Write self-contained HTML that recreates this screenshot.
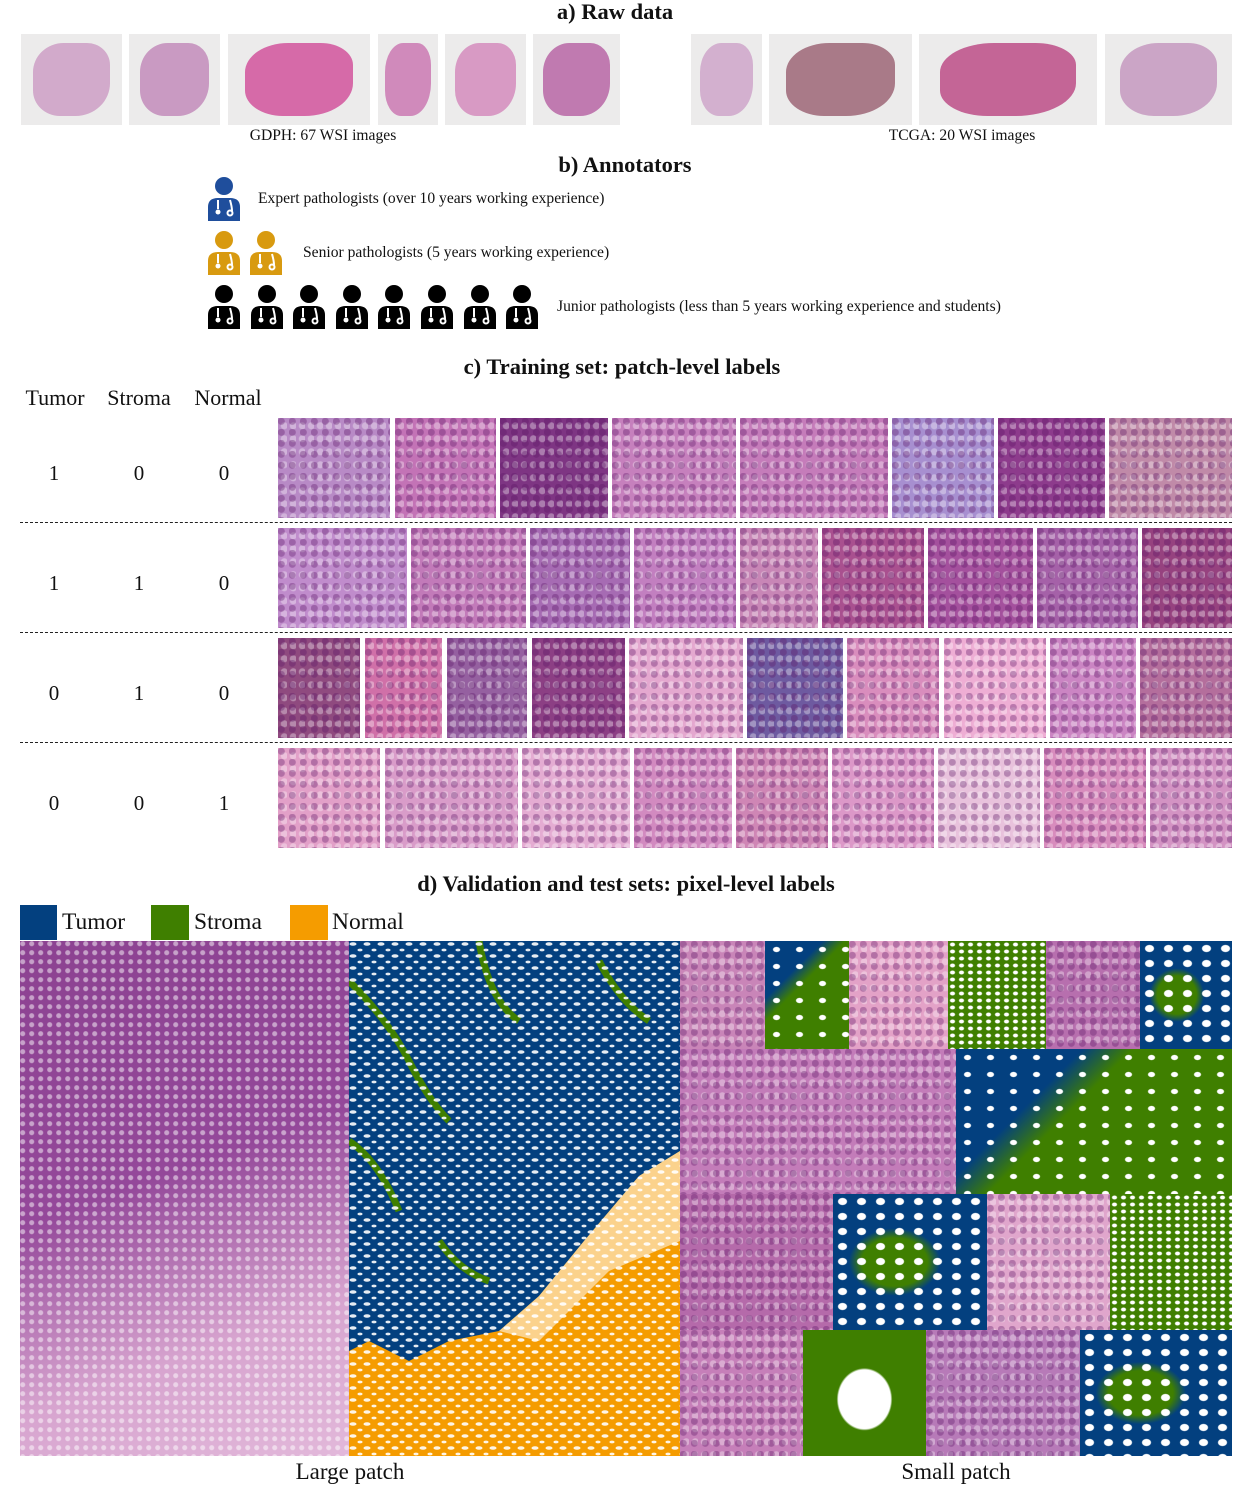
<!DOCTYPE html>
<html><head><meta charset="utf-8"><style>
body{margin:0;width:1255px;height:1496px;background:#fff;position:relative;overflow:hidden;font-family:"Liberation Serif",serif;color:#111}
.a{position:absolute}
.t{position:absolute;font-weight:bold;font-size:22.5px;white-space:nowrap;transform:translateX(-50%)}
.cap{position:absolute;font-size:15.6px;white-space:nowrap;transform:translateX(-50%)}
.he{position:absolute;background:#c274b4;background-image:radial-gradient(circle at 30% 30%,rgba(90,20,100,.35) 0 3px,transparent 4px),radial-gradient(circle at 70% 60%,rgba(255,255,255,.35) 0 3px,transparent 4px);background-size:11px 11px,9px 13px}
.wsi{position:absolute;background:#ecebeb}
.wsi i{position:absolute;left:12%;top:10%;width:76%;height:80%;border-radius:40% 30% 45% 35%;background:#cf86bd}
.dash{position:absolute;left:20px;width:1212px;border-top:1.5px dashed #222}
.lbl{position:absolute;font-size:22px;transform:translateX(-50%)}
</style></head><body>
<div class="t" style="left:615px;top:-1px">a) Raw data</div>
<div id="wsi"></div>
<div class="cap" style="left:323px;top:127px">GDPH: 67 WSI images</div>
<div class="cap" style="left:962px;top:127px">TCGA: 20 WSI images</div>
<div class="t" style="left:625px;top:152px">b) Annotators</div>
<div id="icons"></div>
<div class="cap" style="left:258px;top:190px;transform:none">Expert pathologists (over 10 years working experience)</div>
<div class="cap" style="left:303px;top:244px;transform:none">Senior pathologists (5 years working experience)</div>
<div class="cap" style="left:557px;top:298px;transform:none">Junior pathologists (less than 5 years working experience and students)</div>
<div class="t" style="left:622px;top:354px">c) Training set: patch-level labels</div>
<div class="lbl" style="left:55px;top:385px">Tumor</div>
<div class="lbl" style="left:139px;top:385px">Stroma</div>
<div class="lbl" style="left:228px;top:385px">Normal</div>
<div class="dash" style="top:522px"></div>
<div class="dash" style="top:632px"></div>
<div class="dash" style="top:742px"></div>
<div id="rows"></div>
<div class="t" style="left:626px;top:871px">d) Validation and test sets: pixel-level labels</div>
<div class="a" style="left:20px;top:905px;width:37px;height:35px;background:#03407f"></div>
<div class="lbl" style="left:62px;top:909px;transform:none;font-size:23.5px">Tumor</div>
<div class="a" style="left:151px;top:905px;width:38px;height:35px;background:#3f7f00"></div>
<div class="lbl" style="left:194px;top:909px;transform:none;font-size:23.5px">Stroma</div>
<div class="a" style="left:290px;top:905px;width:38px;height:35px;background:#f59c00"></div>
<div class="lbl" style="left:332px;top:909px;transform:none;font-size:23.5px">Normal</div>
<div class="he" style="left:20px;top:941px;width:329px;height:515px;background-color:#b670b0;background-image:radial-gradient(circle at 30% 30%,rgba(255,255,255,.5) 0 2px,transparent 3px),linear-gradient(160deg,#8c4291 0%,#94489a 45%,#d7a4cf 75%,#e2b8da 100%);background-size:9px 9px,100% 100%"></div>
<svg class="a" style="left:349px;top:941px" width="331" height="515">
<defs><pattern id="wh" width="14" height="12" patternUnits="userSpaceOnUse"><ellipse cx="4" cy="3" rx="3.5" ry="1.8" fill="#fff"/><ellipse cx="11" cy="9" rx="2.5" ry="1.4" fill="#fff"/></pattern></defs>
<rect width="331" height="515" fill="#03407f"/>
<polygon points="331,210 290,235 235,300 190,355 150,390 100,400 60,420 20,400 0,410 0,515 331,515" fill="#f59c00"/>
<path d="M0,40 Q40,80 60,120 T100,180 M130,0 Q140,60 170,80 M250,20 Q270,60 300,80 M0,200 Q30,220 50,270 M90,300 Q110,330 140,340" stroke="#3f7f00" stroke-width="7" fill="none"/>
<polygon points="331,210 290,235 235,300 190,355 150,390 190,400 260,330 331,300" fill="#fff" opacity=".55"/>
<rect width="331" height="515" fill="url(#wh)" opacity=".9"/>
</svg>
<div id="small"></div>
<div class="cap" style="left:350px;top:1459px;font-size:23px">Large patch</div>
<div class="cap" style="left:956px;top:1459px;font-size:23px">Small patch</div>
<script>
const wsiX=[[21,122],[129,220],[228,370],[378,438],[445,526],[533,620],[691,762],[769,912],[919,1097],[1105,1232]];
const W=document.getElementById('wsi');
wsiX.forEach((r,i)=>{const d=document.createElement('div');d.className='wsi';


d.style.cssText=`left:${r[0]}px;top:34px;width:${r[1]-r[0]}px;height:91px`;
const c=document.createElement('i');c.style.background=['#d2aacb','#c99ac2','#d66aa8','#d08abb','#d89ac4','#c07ab0','#d3b0cf','#a97a88','#c46596','#cba5c6'][i];d.appendChild(c);W.appendChild(d);});
function person(x,y,col){return `<svg class="a" style="left:${x}px;top:${y}px" width="36" height="44" viewBox="0 0 36 44"><circle cx="18" cy="9" r="9" fill="${col}"/><path d="M2,44 L2,30 Q2,21 12,21 L24,21 Q34,21 34,30 L34,44Z" fill="${col}"/><path d="M12,23 L12,32 M24,23 Q26,30 26,34" stroke="#fff" stroke-width="2" fill="none"/><circle cx="12" cy="35" r="2.5" fill="#fff"/><circle cx="24" cy="36" r="2.5" fill="none" stroke="#fff" stroke-width="2"/></svg>`;}
let h=person(206,177,'#1f4e9c')+person(206,231,'#d89a10')+person(248,231,'#d89a10');
for(let i=0;i<8;i++)h+=person(206+i*42.6,285,'#000');
const I=document.getElementById('icons');I.innerHTML=h;
I.querySelectorAll('svg').forEach(s=>{});
const rowLabels=[[1,0,0],[1,1,0],[0,1,0],[0,0,1]];
const rowY=[418,528,638,748];
const patches=[
[[278,390],[395,496],[500,608],[612,736],[740,888],[892,994],[998,1105],[1109,1232]],
[[278,407],[411,526],[530,630],[634,736],[740,818],[822,924],[928,1033],[1037,1138],[1142,1232]],
[[278,360],[365,442],[447,527],[532,625],[629,743],[747,843],[847,939],[944,1046],[1050,1136],[1140,1232]],
[[278,380],[385,518],[522,630],[634,732],[736,828],[832,934],[938,1040],[1044,1146],[1150,1232]]];
const cols=[['#b88ac6','#c373b6','#7e3583','#c680bd','#c57cba','#a78fd0','#8d3b8c','#c08aa8'],
['#c08ccc','#c27ab9','#a66bb3','#c27fc0','#c886b6','#a9508f','#a4509d','#a561a8','#96427f'],
['#8f4a7f','#d070a8','#9560a0','#8c3f84','#e4a8cf','#6e5aa0','#d98dbd','#eeaed4','#cb85c3','#b46e9c'],
['#e2a0c8','#d99cc9','#e4acd2','#d28ac0','#cf86b5','#dc98c8','#e8c2dc','#d88cbd','#d393c3']];
const R=document.getElementById('rows');
rowLabels.forEach((lab,r)=>{lab.forEach((v,k)=>{const d=document.createElement('div');d.className='lbl';


d.style.left=[54,139,224][k]+'px';d.style.top=(rowY[r]+43)+'px';d.style.fontSize='21px';d.textContent=v;R.appendChild(d);});
patches[r].forEach((p,j)=>{const d=document.createElement('div');d.className='he';


d.style.cssText=`left:${p[0]}px;top:${rowY[r]}px;width:${p[1]-p[0]}px;height:100px;background-color:${cols[r][j]}`;R.appendChild(d);});});
const small=[[680,941,85,108,'he','#c985b8'],[765,941,84,108,'g',''],[849,941,99,108,'he','#e3a2c7'],[948,941,98,108,'g2',''],[1046,941,94,108,'he','#b76fae'],[1140,941,92,108,'b',''],
[680,1049,276,145,'he','#c37cb9'],[956,1049,276,145,'g',''],
[680,1194,153,136,'he','#b56aaa'],[833,1194,154,136,'b',''],[987,1194,123,136,'he','#e0a6cc'],[1110,1194,122,136,'g2',''],
[680,1330,123,126,'he','#c67fb9'],[803,1330,123,126,'gw',''],[926,1330,154,126,'he','#b77ab8'],[1080,1330,152,126,'b','']];
const S=document.getElementById('small');
small.forEach(s=>{const d=document.createElement('div');d.className='a'+(s[4]=='he'?' he':'');


let bg='';
if(s[4]=='he')bg=`background-color:${s[5]}`;
else if(s[4]=='g')bg='background-image:radial-gradient(ellipse,#fff 0 3px,transparent 4px),linear-gradient(135deg,#03407f 0 30%,#3f7f00 42%);background-size:23px 17px,100% 100%';
else if(s[4]=='g2')bg='background-color:#3f7f00;background-image:radial-gradient(ellipse,#fff 0 2px,transparent 3px);background-size:9px 7px';
else if(s[4]=='gw')bg='background-color:#3f7f00;background-image:radial-gradient(ellipse at 50% 55%,#fff 0 30%,transparent 32%);';
else bg='background-color:#03407f;background-image:radial-gradient(ellipse,#fff 0 4px,transparent 5px),radial-gradient(ellipse at 40% 50%,#3f7f00 0 25%,transparent 35%);background-size:19px 15px,100% 100%';
d.style.cssText=`left:${s[0]}px;top:${s[1]}px;width:${s[2]}px;height:${s[3]}px;${bg}`;S.appendChild(d);});
</script>
</body></html>
